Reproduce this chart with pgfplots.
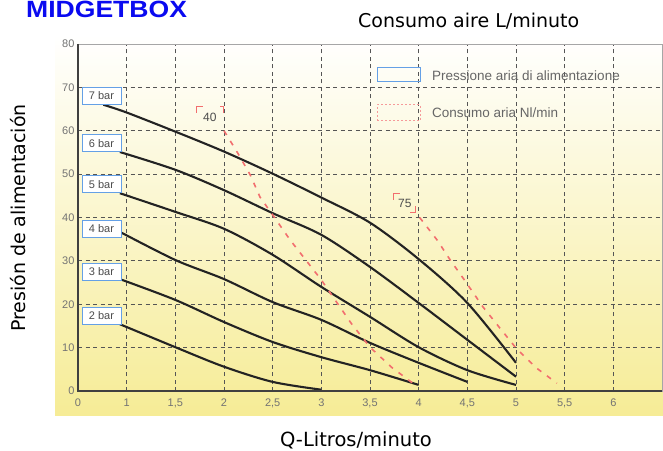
\documentclass[border=0pt]{standalone}
\usepackage{pgfplots}
\pgfplotsset{compat=1.18}
\usepackage{fontspec}
\setmainfont{DejaVu Sans}
\newfontfamily\lib{Liberation Sans}
\definecolor{bgyel}{RGB}{246,236,150}
\definecolor{bgmid}{RGB}{250,246,208}
\definecolor{curve}{RGB}{35,35,35}
\definecolor{redd}{RGB}{242,110,110}
\definecolor{boxblue}{RGB}{100,160,230}
\definecolor{gridc}{RGB}{85,85,85}
\definecolor{midblue}{RGB}{10,10,240}
\definecolor{tickgray}{RGB}{115,115,115}
\newcommand\tickfont{\lib\fontsize{11}{12}\selectfont}
\tikzset{barlab/.style={draw=boxblue, fill=white, line width=0.9pt, minimum width=39pt, minimum height=17pt, inner sep=0pt, font=\lib\fontsize{11}{12}\selectfont, text=black!70}}
\begin{document}
\begin{tikzpicture}
\useasboundingbox (0pt,0pt) rectangle (663pt,450pt);
\fill[white] (0pt,0pt) rectangle (663pt,450pt);
\shade[top color=white, middle color=bgmid, bottom color=bgyel] (55pt,35pt) rectangle (663pt,415pt);
\begin{axis}[
  at={(78pt,59pt)}, anchor=south west, scale only axis,
  width=584pt, height=347pt,
  xmin=0.5, xmax=6.5, ymin=0, ymax=80,
  xtick={0.5,1,1.5,2,2.5,3,3.5,4,4.5,5,5.5,6},
  xticklabels={0,1,{1,5},2,{2,5},3,{3,5},4,{4,5},5,{5,5},6},
  ytick={0,10,20,30,40,50,60,70,80},
  /pgf/number format/assume math mode=true,
  grid=major,
  major grid style={gridc, line width=0.9pt, dash pattern=on 4pt off 3.5pt},
  major tick length=0pt,
  axis line style={gray!70, line width=0.8pt},
  ticklabel style={font=\tickfont, text=tickgray},
  xticklabel style={yshift=-4pt},
  clip=false,
]
% pressure curves
\addplot[curve, line width=2.1pt, smooth] coordinates {(0.76,66.0) (1.0,64.2) (1.5,59.8) (2.0,55.2) (2.5,50.1) (3.0,44.6) (3.5,38.8) (4.0,30.4) (4.5,20.3) (5.0,6.5)};
\addplot[curve, line width=2.1pt, smooth] coordinates {(0.93,55.1) (1.5,51.0) (2.0,46.3) (2.5,41.0) (3.0,36.0) (3.5,28.6) (4.0,20.3) (4.5,11.8) (5.0,3.3)};
\addplot[curve, line width=2.1pt, smooth] coordinates {(0.93,45.6) (1.5,41.3) (2.0,37.4) (2.5,31.4) (3.0,24.0) (3.5,17.1) (4.0,10.1) (4.5,4.8) (5.0,1.4)};
\addplot[curve, line width=2.1pt, smooth] coordinates {(0.93,36.7) (1.5,30.2) (2.0,25.8) (2.5,20.5) (3.0,16.4) (3.5,11.1) (4.0,6.5) (4.5,2.1)};
\addplot[curve, line width=2.1pt, smooth] coordinates {(0.93,25.8) (1.5,21.0) (2.0,15.9) (2.5,11.3) (3.0,7.8) (3.5,4.8) (4.0,1.4)};
\addplot[curve, line width=2.1pt, smooth] coordinates {(0.93,15.4) (1.5,10.1) (2.0,5.6) (2.5,2.1) (3.0,0.3)};
% consumption lines
\addplot[redd, line width=1.6pt, dash pattern=on 5pt off 7pt] coordinates {(2.0,60.0) (2.14,54.9) (2.27,49.8) (2.37,44.7) (2.5,40.6) (2.68,34.8) (3.0,25.6) (3.31,15.5) (3.5,10.1) (3.72,5.5) (3.94,1.8)};
\addplot[redd, line width=1.6pt, dash pattern=on 5pt off 7pt] coordinates {(4.01,40.0) (4.19,34.8) (4.33,30.0) (4.47,25.6) (4.66,19.4) (4.81,15.2) (5.0,9.9) (5.21,5.3) (5.42,1.8)};
% axis lines
\draw[black!75, line width=1.8pt] (rel axis cs:0,1) -- (rel axis cs:0,0) -- (rel axis cs:1,0);
% bar labels
\node[barlab] at (axis cs:0.741,68.0) {7 bar};
\node[barlab] at (axis cs:0.741,57.1) {6 bar};
\node[barlab] at (axis cs:0.741,47.7) {5 bar};
\node[barlab] at (axis cs:0.741,37.4) {4 bar};
\node[barlab] at (axis cs:0.741,27.5) {3 bar};
\node[barlab] at (axis cs:0.741,17.4) {2 bar};
% 40 / 75 labels
\node[font=\lib\fontsize{12}{13}\selectfont, text=black!70, inner sep=2pt, minimum width=26pt, minimum height=20pt] (l40) at (axis cs:1.855,63.2) {40};
\draw[redd, line width=1pt] ([yshift=-6pt]l40.north west) -- (l40.north west) -- ++(6pt,0pt);
\draw[redd, line width=1pt] ([xshift=-3pt]l40.north east) -- (l40.north east) -- ++(0pt,-6pt);
\node[font=\lib\fontsize{12}{13}\selectfont, text=black!70, inner sep=2pt, minimum width=22pt, minimum height=18pt] (l75) at (axis cs:3.857,43.3) {75};
\draw[redd, line width=1pt] ([yshift=-6pt]l75.north west) -- (l75.north west) -- ++(6pt,0pt);
\draw[redd, line width=1pt] ([yshift=6pt]l75.south east) -- (l75.south east) -- ++(-6pt,0pt);
\end{axis}
% legend inside plot
\draw[boxblue, line width=1pt] (377pt,368pt) rectangle (420pt,382pt);
\node[anchor=base west, inner sep=0pt, font=\lib\fontsize{13.5}{14}\selectfont, text=black!60] at (432pt,369pt) {Pressione aria di alimentazione};
\draw[redd!70, line width=1pt, dash pattern=on 2pt off 2pt] (377pt,329pt) rectangle (420pt,345pt);
\node[anchor=base west, inner sep=0pt, font=\lib\fontsize{13.5}{14}\selectfont, text=black!60] at (432pt,332pt) {Consumo aria Nl/min};
% titles and labels
\node[anchor=base west, inner sep=0pt, font=\lib\bfseries\fontsize{23.5}{26}\selectfont, text=midblue] at (26pt,432pt) {\scalebox{1.13}[1]{MIDGETBOX}};
\node[anchor=base west, inner sep=0pt, font=\fontsize{19}{21}\selectfont] at (358pt,422pt) {Consumo aire L/minuto};
\node[rotate=90, inner sep=0pt, font=\fontsize{19}{21}\selectfont] at (18pt,232pt) {Presión de alimentación};
\node[anchor=base, inner sep=0pt, font=\fontsize{19.5}{21}\selectfont] at (356pt,4pt) {Q-Litros/minuto};
\end{tikzpicture}
\end{document}
